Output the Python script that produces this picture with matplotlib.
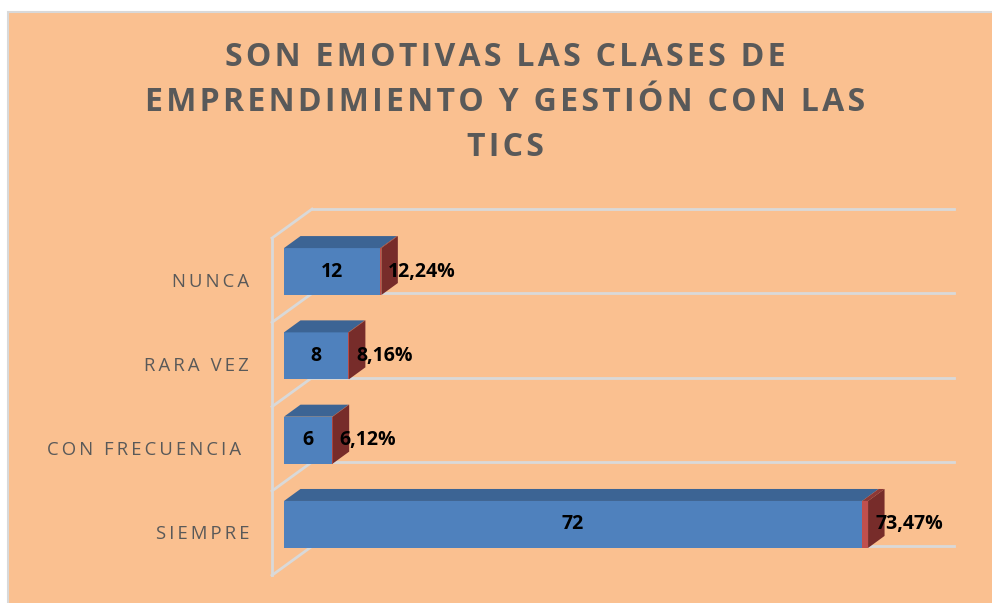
import matplotlib.pyplot as plt
from matplotlib.patches import Polygon, Rectangle
from matplotlib import transforms

# data (bottom to top)
categories = ["SIEMPRE", "CON FRECUENCIA ", "RARA VEZ", "NUNCA"]
counts = [72, 6, 8, 12]
shares = [0.7347, 0.0612, 0.0816, 0.1224]
title = "SON EMOTIVAS LAS CLASES DE\nEMPRENDIMIENTO Y GESTIÓN CON LAS\nTICS"

W, H = 992, 603
gray_txt = "#595959"
grid_col = "#D9D9D9"
fonts = ["Open Sans", "DejaVu Sans"]

fig = plt.figure(figsize=(W / 100, H / 100), dpi=100)
fig.patch.set_facecolor("white")
fig.add_artist(Rectangle((8 / W, -0.01), 1, (H - 12) / H + 0.01, transform=fig.transFigure,
                         facecolor="#FAC090", edgecolor=grid_col, lw=1.5, zorder=-5))

ax = fig.add_axes([284 / W, (H - 566.6) / H, 642.4 / W, 337.2 / H])
ax.set_xlim(0, 80)
ax.set_ylim(-0.5, 3.5)
ax.axis("off")


def shifted(x, y, dx, dy):
    # move a data point by (dx, dy) pixels, to fake the 3d depth
    px, py = ax.transData.transform((x, y))
    return ax.transData.inverted().transform((px + dx, py + dy))


def spaced(s, sep="\u200a"):
    return sep.join(s)


# --- 3d frame / gridlines ---
back = (28, 20.3)
front = (-12, -8.7)
for b in [-0.5, 0.5, 1.5, 2.5, 3.5]:
    p0 = shifted(0, b, *back)
    p1 = shifted(80, b, *back)
    f0 = shifted(0, b, *front)
    ax.plot([p0[0], p1[0]], [p0[1], p1[1]], color=grid_col, lw=2, zorder=1, clip_on=False)
    ax.plot([f0[0], p0[0]], [f0[1], p0[1]], color=grid_col, lw=2, zorder=1, clip_on=False)
v0 = shifted(0, -0.5, *front)
v1 = shifted(0, 3.5, *front)
ax.plot([v0[0], v1[0]], [v0[1], v1[1]], color=grid_col, lw=2, zorder=1, clip_on=False)

# --- bars ---
h = 0.557
depth = (16.5, 12)
ypos = list(range(len(categories)))
ax.barh(ypos, counts, height=h, color="#4F81BD", zorder=3)
ax.barh(ypos, shares, left=counts, height=h, color="#C0504D", zorder=3)

for i, (c, s) in enumerate(zip(counts, shares)):
    top = i + h / 2
    bot = i - h / 2
    end = c + s
    ax.add_patch(Polygon([(0, top), (c, top), shifted(c, top, *depth), shifted(0, top, *depth)],
                         closed=True, facecolor="#3C6494", edgecolor="none", zorder=3, clip_on=False))
    ax.add_patch(Polygon([(c, top), (end, top), shifted(end, top, *depth), shifted(c, top, *depth)],
                         closed=True, facecolor="#8C3836", edgecolor="none", zorder=3, clip_on=False))
    ax.add_patch(Polygon([(end, top), (end, bot), shifted(end, bot, *depth), shifted(end, top, *depth)],
                         closed=True, facecolor="#772C2A", edgecolor="none", zorder=3, clip_on=False))

    ax.text(c / 2, i, str(c), ha="center", va="center", fontsize=14, fontweight="bold",
            color="black", family=fonts, zorder=5)
    lbl = f"{s * 100:.2f}".replace(".", ",") + "%"
    ax.text(end, i, lbl, ha="left", va="center", fontsize=14, fontweight="bold", color="black",
            family=fonts, zorder=5,
            transform=transforms.offset_copy(ax.transData, fig=fig, x=7, y=0, units="dots"))

    ax.text(0, i, spaced(categories[i], "\u2009"), ha="right", va="center", fontsize=13.3, color=gray_txt,
            family=fonts,
            transform=transforms.offset_copy(ax.transData, fig=fig, x=-35, y=-10, units="dots"))

# --- title ---
for k, line in enumerate(title.split("\n")):
    fig.text(505 / W, 1 - (57.5 + 45 * k) / H, spaced(line), ha="center", va="center", fontsize=23,
             fontweight="bold", color=gray_txt, family=fonts)

fig.savefig("out.png", dpi=100, facecolor=fig.get_facecolor())
